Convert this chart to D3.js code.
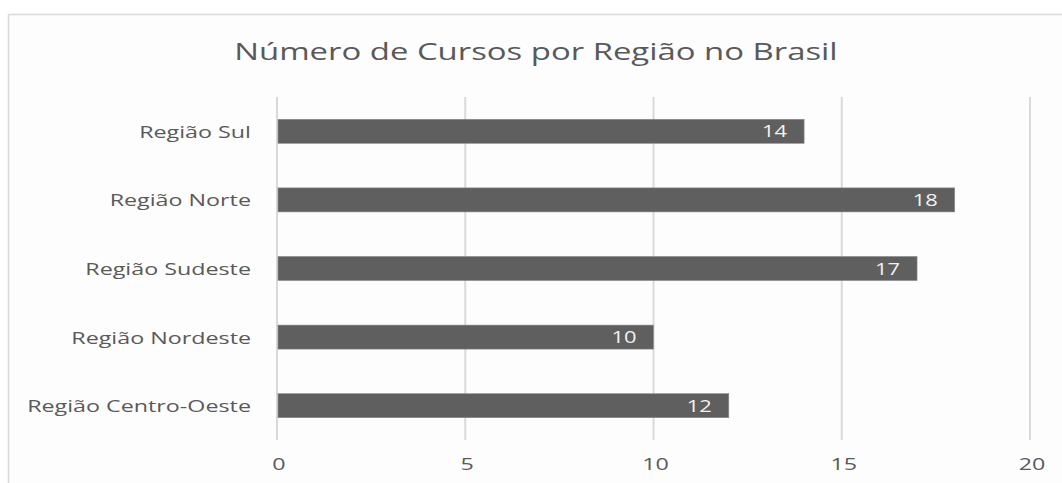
<!DOCTYPE html>
<html><head><meta charset="utf-8">
<script src="https://cdn.jsdelivr.net/npm/d3@7"></script>
<style>body{margin:0;background:#fff}svg{display:block}text{font-family:"Open Sans",sans-serif}</style>
</head><body>
<svg id="c" width="1062" height="483"></svg>
<script>
const categories = ["Região Sul","Região Norte","Região Sudeste","Região Nordeste","Região Centro-Oeste"];
const values = [14,18,17,10,12];
const xTicks = [0,5,10,15,20];
const title = "Número de Cursos por Região no Brasil";

const SX = 1.37; // horizontal stretch of the reference's text
const svg = d3.select("#c");
svg.append("rect").attr("x",8.5).attr("y",14.5).attr("width",1070).attr("height",480)
  .attr("fill","#fdfdfd").attr("stroke","#d9d9d9").attr("stroke-width",1.5);

const x = d3.scaleLinear().domain([0,20]).range([277,1030]);
const y = d3.scaleBand().domain(categories).range([97,440]).paddingInner(0.65).paddingOuter(0.325);

svg.append("g").selectAll("line").data(xTicks).join("line")
  .attr("x1",d=>x(d)).attr("x2",d=>x(d)).attr("y1",97).attr("y2",440)
  .attr("stroke","#d9d9d9").attr("stroke-width",2);

svg.append("g").selectAll("rect").data(values).join("rect")
  .attr("x",x(0)+1).attr("y",(d,i)=>y(categories[i]))
  .attr("width",d=>x(d)-x(0)-1).attr("height",y.bandwidth())
  .attr("fill","#5f5f5f").attr("stroke","#8a8a8a").attr("stroke-width",0.6);

const tr = (tx,ty)=>`translate(${tx},${ty}) scale(${SX},1)`;

svg.append("g").selectAll("text").data(values).join("text")
  .attr("transform",(d,i)=>tr(x(d)-17, y(categories[i])+y.bandwidth()/2+6))
  .attr("text-anchor","end").attr("fill","#f2f2f2")
  .attr("font-size",16).text(d=>d);

svg.append("g").selectAll("text").data(categories).join("text")
  .attr("transform",d=>tr(251, y(d)+y.bandwidth()/2+6.5))
  .attr("text-anchor","end").attr("fill","#595959").attr("font-size",17).text(d=>d);

svg.append("g").selectAll("text").data(xTicks).join("text")
  .attr("transform",d=>tr(x(d)+2, 470))
  .attr("text-anchor","middle").attr("fill","#595959").attr("font-size",17).text(d=>d);

svg.append("text").attr("transform",tr(536,60))
  .attr("text-anchor","middle").attr("fill","#595959").attr("font-size",24).text(title);
</script>
</body></html>
